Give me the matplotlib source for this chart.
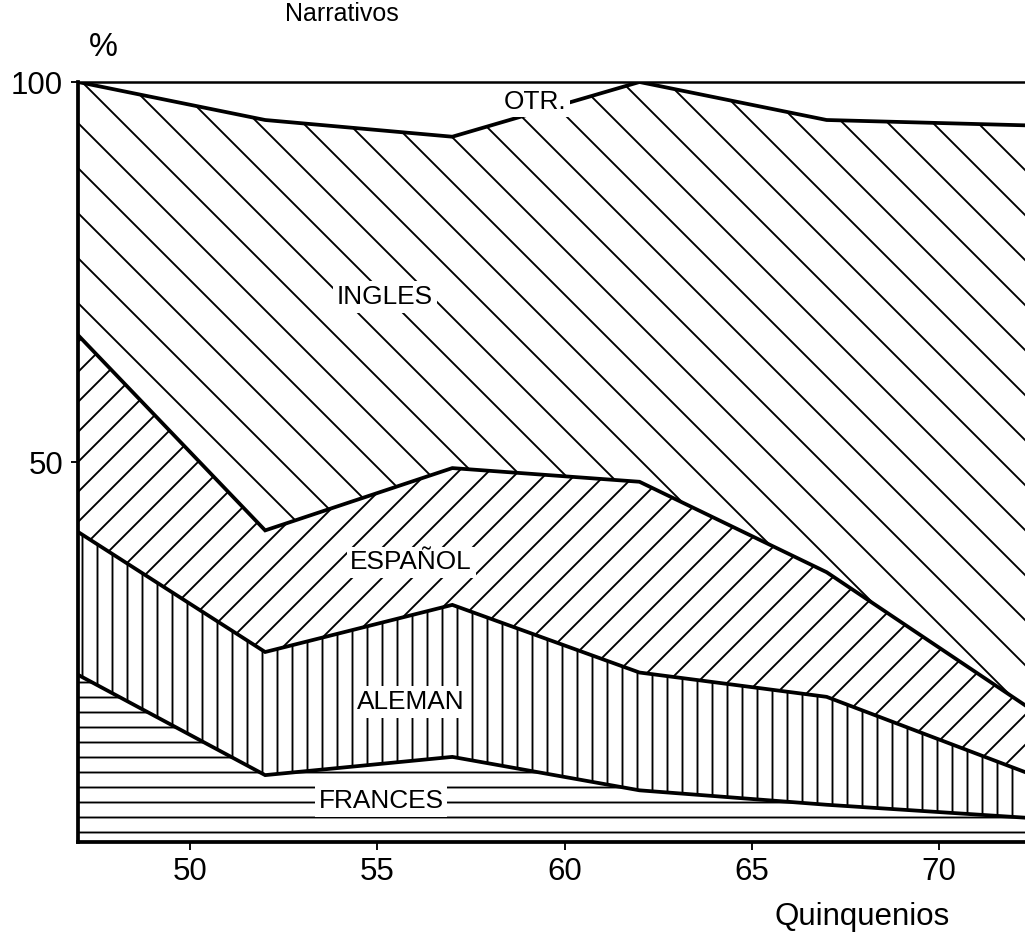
import matplotlib
matplotlib.use("Agg")
import matplotlib.pyplot as plt
import matplotlib.hatch as mhatch
import numpy as np

# Quinquenios (años 19xx); último punto en el borde derecho del gráfico
years = [47, 52, 57, 62, 67, 72.3]

# Porcentajes por idioma (apilados de abajo hacia arriba)
frances = [22.0, 8.8, 11.2, 6.8, 4.9, 3.2]
aleman = [18.8, 16.2, 20.0, 15.5, 14.2, 6.0]
espanol = [25.9, 16.0, 18.0, 25.1, 16.4, 8.8]
ingles = [33.3, 54.0, 43.6, 52.6, 59.5, 76.3]
otros = [0.0, 5.0, 7.2, 0.0, 5.0, 5.7]

series_names = ["FRANCES", "ALEMAN", "ESPAÑOL", "INGLES", "OTR."]
hatches = ["-", "|", "/", "\\", None]
label_pos = [(55.1, 5.4), (55.9, 18.4), (55.9, 36.8), (55.2, 71.7), (59.2, 97.4)]

xticks = [50, 55, 60, 65, 70]
yticks = [50, 100]

# wider spacing for the back-slash hatch (INGLES band)
_sw_cls = getattr(mhatch, 'SouthEastHatch', None) or getattr(mhatch, 'SouthWestHatch', None)
if _sw_cls is not None:
    _orig_sw_init = _sw_cls.__init__
    def _sw_init(self, hatch, density):
        _orig_sw_init(self, hatch, 4)
    _sw_cls.__init__ = _sw_init

DPI = 90
plt.rcParams['hatch.linewidth'] = 1.5
plt.rcParams['font.family'] = ['Liberation Sans', 'DejaVu Sans']

fig = plt.figure(figsize=(1025 / DPI, 932 / DPI), dpi=DPI)
ax = fig.add_axes([78 / 1025, 90 / 932, 1 - 78 / 1025, (842 - 82) / 932])

x = np.array(years)
layers = [np.array(s) for s in (frances, aleman, espanol, ingles, otros)]
bottom = np.zeros_like(x)
for vals, h in zip(layers, hatches):
    top = bottom + vals
    if h is not None:
        ax.fill_between(x, bottom, top, facecolor='white', edgecolor='black',
                        hatch=h, linewidth=0, zorder=1)
        ax.plot(x, top, color='black', lw=3, solid_joinstyle='miter', zorder=3)
    else:
        ax.fill_between(x, bottom, top, facecolor='white', linewidth=0, zorder=1)
    bottom = top

for name, (lx, ly) in zip(series_names, label_pos):
    ax.text(lx, ly, name, fontsize=21, ha='center', va='center', zorder=4,
            bbox=dict(facecolor='white', edgecolor='none', pad=3))

ax.set_xlim(47, 72.3)
ax.set_ylim(0, 100)
ax.set_xticks(xticks)
ax.set_yticks(yticks)
ax.tick_params(axis='both', direction='out', length=6, width=1.5, labelsize=25, pad=6)
ax.spines['right'].set_visible(False)
ax.spines['left'].set_linewidth(3)
ax.spines['bottom'].set_linewidth(3)
ax.spines['top'].set_linewidth(2)
for sp in ax.spines.values():
    sp.set_zorder(5)

fig.text(103 / 1025, 1 - 47 / 932, "%", fontsize=26, ha='center', va='center')
fig.text(862 / 1025, 1 - 925 / 932, "Quinquenios", fontsize=25, ha='center', va='baseline')
fig.text(342 / 1025, 0.998, "Narrativos", fontsize=20, ha='center', va='top')

fig.savefig("out.png", dpi=DPI)
